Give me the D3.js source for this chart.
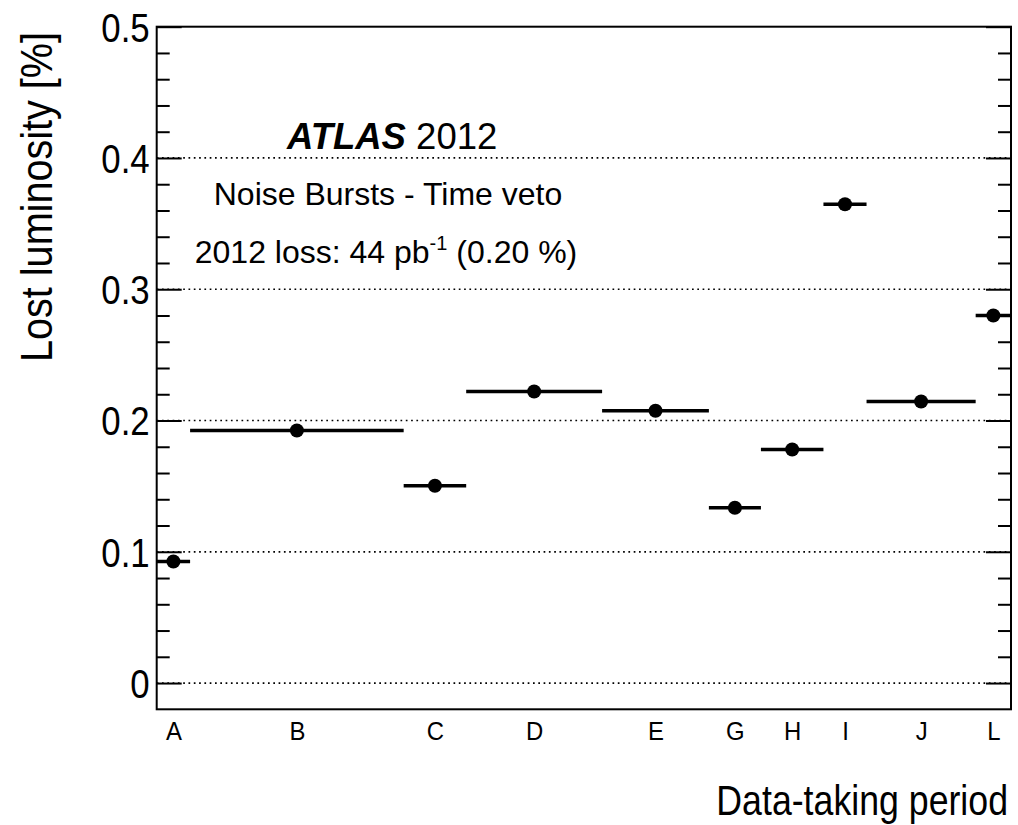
<!DOCTYPE html>
<html><head><meta charset="utf-8">
<script src="https://cdn.jsdelivr.net/npm/d3@7"></script>
<style>body{margin:0;background:#fff} svg{display:block}</style>
</head><body><svg id="c" width="1018" height="825"></svg>
<script>
// ---- data ----
const periods = ["A","B","C","D","E","G","H","I","J","L"];
// cumulative integrated luminosity at period boundaries (fb^-1, approx.)
const binEdges = [0, 0.86, 6.36, 7.97, 11.47, 14.22, 15.56, 17.17, 18.28, 21.09, 22.0];
const lostPercent = [0.0926, 0.1924, 0.1503, 0.2221, 0.2074, 0.1335, 0.1779, 0.3648, 0.2145, 0.2800];
const yMajorTicks = [0, 0.1, 0.2, 0.3, 0.4, 0.5];
const yMajorLabels = ["0", "0.1", "0.2", "0.3", "0.4", "0.5"];
const yMinorTicks = [0.02,0.04,0.06,0.08,0.12,0.14,0.16,0.18,0.22,0.24,0.26,0.28,0.32,0.34,0.36,0.38,0.42,0.44,0.46,0.48];
const gridValues = [0, 0.1, 0.2, 0.3, 0.4];

// ---- layout ----
const svg = d3.select("#c");
const L = 156.7, R = 1011, T = 26.7, B = 709.3;
const FONT = "'Liberation Sans', Arial, Helvetica, sans-serif";
const SX = 0.87;

const x = d3.scaleLinear().domain([binEdges[0], binEdges[binEdges.length-1]]).range([L, R]);
const y = d3.scaleLinear().domain([-0.02, 0.5]).range([B, T]);

const rows = periods.map((p, i) => ({p, lo: binEdges[i], hi: binEdges[i+1], mid: (binEdges[i]+binEdges[i+1])/2, v: lostPercent[i]}));

// grid lines
svg.append("g").selectAll("line").data(gridValues).join("line")
  .attr("x1", L).attr("x2", R).attr("y1", d => y(d)).attr("y2", d => y(d))
  .attr("stroke", "#000").attr("stroke-width", 1.7).attr("stroke-dasharray", "1.7,3.6");

function styleAxis(g) {
  g.select(".domain").remove();
  g.selectAll(".tick line").attr("stroke", "#000").attr("stroke-width", 2);
}

// left axis: minor
svg.append("g").attr("transform", `translate(${L},0)`)
  .call(d3.axisLeft(y).tickValues(yMinorTicks).tickSize(-13).tickFormat(""))
  .call(styleAxis);
// left axis: major with labels
const ly = svg.append("g").attr("transform", `translate(${L},0)`)
  .call(d3.axisLeft(y).tickValues(yMajorTicks).tickSize(-25).tickPadding(7)
        .tickFormat((d, i) => yMajorLabels[i]))
  .call(styleAxis);
ly.selectAll(".tick text")
  .attr("font-family", FONT).attr("font-size", 40).attr("fill", "#000")
  .attr("x", -7 / SX).attr("dy", "0.36em")
  .attr("transform", `scale(${SX},1)`);

// right axis
svg.append("g").attr("transform", `translate(${R},0)`)
  .call(d3.axisRight(y).tickValues(yMinorTicks).tickSize(-13).tickFormat(""))
  .call(styleAxis);
svg.append("g").attr("transform", `translate(${R},0)`)
  .call(d3.axisRight(y).tickValues(yMajorTicks).tickSize(-25).tickFormat(""))
  .call(styleAxis);

// bottom axis labels (period names at bin centres)
const bx = svg.append("g").attr("transform", `translate(0,${B})`)
  .call(d3.axisBottom(x).tickValues(rows.map(r => r.mid)).tickSize(0).tickPadding(0)
        .tickFormat((d, i) => periods[i]))
  .call(styleAxis);
bx.selectAll(".tick text")
  .attr("font-family", FONT).attr("font-size", 26).attr("fill", "#000")
  .attr("y", 31).attr("dy", 0)
  .attr("transform", `scale(0.92,1)`);

// frame
svg.append("rect").attr("x", L).attr("y", T).attr("width", R - L).attr("height", B - T)
  .attr("fill", "none").attr("stroke", "#000").attr("stroke-width", 2);

// horizontal bars (period widths)
svg.append("g").selectAll("line").data(rows).join("line")
  .attr("x1", d => x(d.lo)).attr("x2", d => x(d.hi))
  .attr("y1", d => y(d.v)).attr("y2", d => y(d.v))
  .attr("stroke", "#000").attr("stroke-width", 3.5);

// markers
svg.append("g").selectAll("circle").data(rows).join("circle")
  .attr("cx", d => x(d.mid)).attr("cy", d => y(d.v)).attr("r", 7).attr("fill", "#000");

// annotations
const t1 = svg.append("text").attr("x", 287).attr("y", 149)
  .attr("font-family", FONT).attr("font-size", 36.5).attr("fill", "#000");
t1.append("tspan").attr("font-weight", "bold").attr("font-style", "italic").text("ATLAS");
t1.append("tspan").text(" 2012");

svg.append("text").attr("x", 388).attr("y", 205).attr("text-anchor", "middle")
  .attr("font-family", FONT).attr("font-size", 32).attr("fill", "#000")
  .text("Noise Bursts - Time veto");

const t3 = svg.append("text").attr("x", 386).attr("y", 263).attr("text-anchor", "middle")
  .attr("font-family", FONT).attr("font-size", 32).attr("fill", "#000");
t3.append("tspan").text("2012 loss: 44 pb");
t3.append("tspan").attr("font-size", 20).attr("dy", -13).text("-1");
t3.append("tspan").attr("dy", 13).text(" (0.20 %)");

// axis titles
svg.append("text")
  .attr("transform", `translate(52,362) rotate(-90) scale(0.9,1)`)
  .attr("font-family", FONT).attr("font-size", 44).attr("fill", "#000")
  .text("Lost luminosity [%]");

svg.append("text")
  .attr("transform", `translate(1008,815) scale(0.85,1)`)
  .attr("text-anchor", "end")
  .attr("font-family", FONT).attr("font-size", 42).attr("fill", "#000")
  .text("Data-taking period");
</script></body></html>
